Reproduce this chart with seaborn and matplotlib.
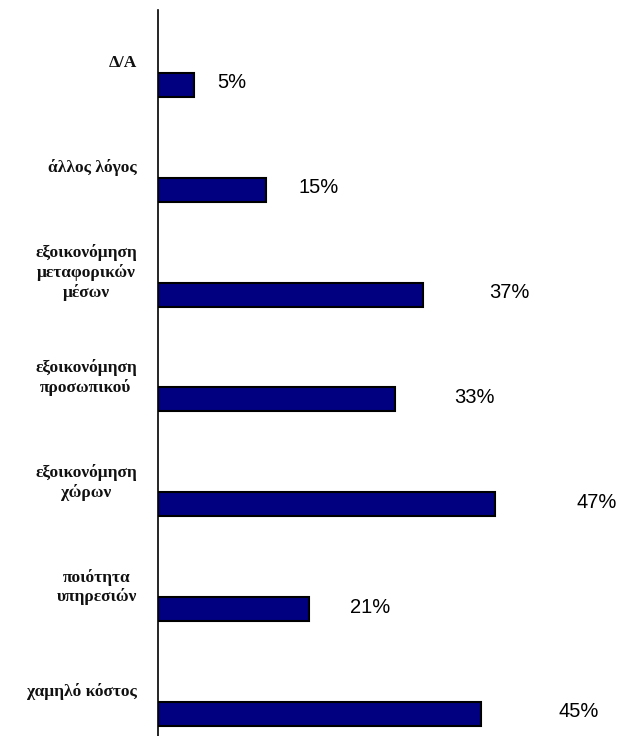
import matplotlib
matplotlib.use("Agg")
import matplotlib.pyplot as plt
import seaborn as sns
import pandas as pd
from matplotlib.transforms import blended_transform_factory

categories = ["Δ/Α", "άλλος λόγος", "εξοικονόμηση\nμεταφορικών\nμέσων",
              "εξοικονόμηση\nπροσωπικού", "εξοικονόμηση\nχώρων",
              "ποιότητα\nυπηρεσιών", "χαμηλό κόστος"]
values = [5, 15, 37, 33, 47, 21, 45]
value_labels = ["5%", "15%", "37%", "33%", "47%", "21%", "45%"]

df = pd.DataFrame({"cat": categories, "val": values})

sns.set_style("white")
plt.rcParams['font.family'] = ['Liberation Sans', 'DejaVu Sans']

fig = plt.figure(figsize=(6.28, 7.36), dpi=100)
ax = fig.add_axes([158/628, 0, 1 - 158/628, (736-10)/736])

sns.barplot(data=df, x="val", y="cat", orient="h", color="#000080",
            edgecolor="black", linewidth=1.5, width=0.23, saturation=1, ax=ax)

ax.set_xlim(0, 65.5)
ax.set_ylim(6.21, -0.714)
ax.set_xlabel("")
ax.set_ylabel("")
ax.set_xticks([])
ax.set_yticks([])
for s in ["top", "right", "bottom"]:
    ax.spines[s].set_visible(False)
ax.spines["left"].set_color("black")
ax.spines["left"].set_linewidth(1.2)

trans = blended_transform_factory(ax.transAxes, ax.transData)
for i, c in enumerate(categories):
    ax.text(-0.045, i - 0.21, c, transform=trans, ha="right", va="center",
            multialignment="center",
            family=["Liberation Serif", "DejaVu Serif"], fontweight="bold",
            fontsize=12.5, linespacing=1.2, clip_on=False, color="#111111")

for i, (v, lab) in enumerate(zip(values, value_labels)):
    ax.text(v * 1.21 + 4.2, i - 0.02, lab, ha="center", va="center",
            family=["Liberation Sans", "DejaVu Sans"], fontsize=14.5,
            color="black")

fig.savefig("out.png", dpi=100, facecolor="white")
